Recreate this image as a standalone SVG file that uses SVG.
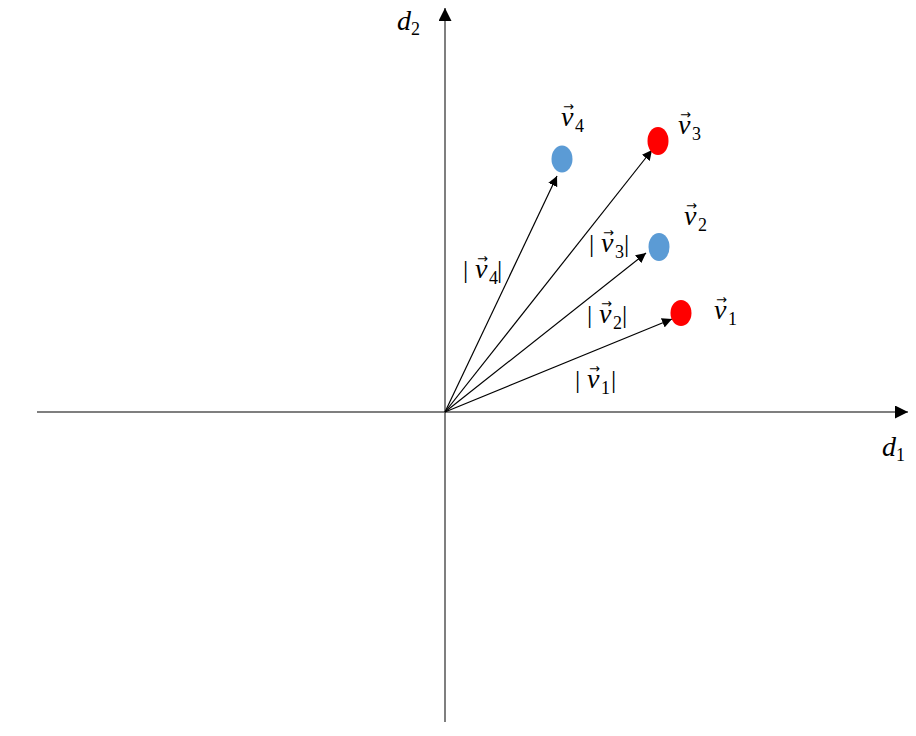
<svg xmlns="http://www.w3.org/2000/svg" width="916" height="736" viewBox="0 0 916 736">
<style>
.t{font-family:"Liberation Serif","DejaVu Serif",serif;font-style:italic;font-size:28px;fill:#000}
.s{font-size:18px;font-style:normal}
.b{font-style:normal;font-size:26px}
.ar{font-family:"DejaVu Sans","Liberation Sans",sans-serif;font-style:normal;font-size:13px}
.vec{stroke:#000;stroke-width:1.2;fill:none}
</style>
<defs>
<marker id="ah" viewBox="0 0 10 10" refX="10" refY="5" markerWidth="10" markerHeight="10" markerUnits="userSpaceOnUse" orient="auto">
<path d="M0,0 L10,5 L0,10 z" fill="#000"/>
</marker>
<marker id="ax" viewBox="0 0 10 10" refX="10" refY="5" markerWidth="13" markerHeight="13" markerUnits="userSpaceOnUse" orient="auto">
<path d="M0,0 L10,5 L0,10 z" fill="#000"/>
</marker>
</defs>
<g id="axes">
<line x1="37" y1="412" x2="908" y2="412" stroke="#000" stroke-width="1.2" marker-end="url(#ax)"/>
<line x1="445" y1="722" x2="445" y2="8" stroke="#555" stroke-width="1.5" marker-end="url(#ax)"/>
<text class="t" x="397" y="30">d<tspan class="s" dy="5">2</tspan></text>
<text class="t" x="882" y="456">d<tspan class="s" dy="5">1</tspan></text>
</g>
<g id="connectors">
<line class="vec" x1="445" y1="412" x2="672" y2="319" marker-end="url(#ah)"/>
<line class="vec" x1="445" y1="412" x2="646" y2="253" marker-end="url(#ah)"/>
<line class="vec" x1="445" y1="412" x2="652" y2="150" marker-end="url(#ah)"/>
<line class="vec" x1="445" y1="412" x2="557" y2="176" marker-end="url(#ah)"/>
</g>
<g id="v1"><ellipse cx="681" cy="313" rx="10.5" ry="13" fill="#ff0000"/><text class="t" x="714" y="319">v<tspan class="ar" x="716" y="304">→</tspan><tspan class="s" x="728" y="325">1</tspan></text></g>
<g id="v2"><ellipse cx="659" cy="247" rx="10.5" ry="14" fill="#5b9bd5"/><text class="t" x="684" y="225">v<tspan class="ar" x="686" y="210">→</tspan><tspan class="s" x="698" y="231">2</tspan></text></g>
<g id="v3"><ellipse cx="658" cy="141" rx="10.5" ry="14" fill="#ff0000"/><text class="t" x="678" y="134">v<tspan class="ar" x="680" y="119">→</tspan><tspan class="s" x="692" y="140">3</tspan></text></g>
<g id="v4"><ellipse cx="562" cy="159" rx="10.5" ry="13.5" fill="#5b9bd5"/><text class="t" x="561" y="126">v<tspan class="ar" x="563" y="111">→</tspan><tspan class="s" x="575" y="132">4</tspan></text></g>
<g id="labels">
<text class="t" x="463" y="278"><tspan class="b">|</tspan><tspan x="475">v</tspan><tspan class="ar" x="477" y="263">→</tspan><tspan class="s" x="489" y="284">4</tspan><tspan class="b" x="497" y="278">|</tspan></text>
<text class="t" x="589" y="252"><tspan class="b">|</tspan><tspan x="601">v</tspan><tspan class="ar" x="603" y="237">→</tspan><tspan class="s" x="615" y="258">3</tspan><tspan class="b" x="624" y="252">|</tspan></text>
<text class="t" x="587" y="323"><tspan class="b">|</tspan><tspan x="599">v</tspan><tspan class="ar" x="601" y="308">→</tspan><tspan class="s" x="613" y="329">2</tspan><tspan class="b" x="622" y="323">|</tspan></text>
<text class="t" x="575" y="388"><tspan class="b">|</tspan><tspan x="587">v</tspan><tspan class="ar" x="589" y="373">→</tspan><tspan class="s" x="601" y="394">1</tspan><tspan class="b" x="611" y="388">|</tspan></text>
</g>
</svg>
